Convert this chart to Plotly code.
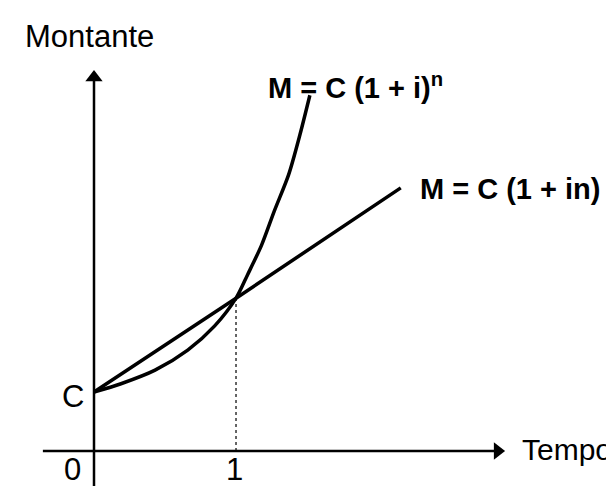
import plotly.graph_objects as go


THEME = {
    "ink": "#000000",
    "bg": "#FFFFFF",
    "font": "Arial, Liberation Sans, sans-serif",
}

# time (n) and amount (M, with C = 1)
compound_n = [0.0, 0.19, 0.43, 0.66, 0.85, 1.0, 1.08, 1.18, 1.27, 1.37, 1.45, 1.52]
compound_m = [1.0, 1.14, 1.37, 1.71, 2.12, 2.59, 2.98, 3.49, 4.07, 4.68, 5.36, 6.03]

simple_n = [0.0, 1.0, 2.16]
simple_m = [1.0, 2.59, 4.46]

cross_n = 1.0
cross_m = 2.59

x_label = "Tempo"
y_label = "Montante"
tick_zero = "0"
tick_one = "1"
capital_label = "C"
compound_label = "<b>M = C (1 + i)<sup>n</sup></b>"
simple_label = "<b>M = C (1 + in)</b>"


def _text(fig, text, x, y, size=31, xanchor="center"):
    fig.add_annotation(
        x=x, y=y, text=text, showarrow=False,
        xanchor=xanchor, yanchor="middle",
        font=dict(family=THEME["font"], size=size, color=THEME["ink"]),
    )


fig = go.Figure()

# axes: plain lines plus a filled triangle at the far end
fig.add_shape(type="line", x0=-0.36, y0=0, x1=2.842, y1=0,
              line=dict(color=THEME["ink"], width=2.5))
fig.add_shape(type="line", x0=0, y0=-0.75, x1=0, y1=6.33,
              line=dict(color=THEME["ink"], width=2.5))
fig.add_trace(go.Scatter(
    x=[2.842, 0], y=[0, 6.33], mode="markers",
    marker=dict(symbol=["triangle-right", "triangle-up"], size=15,
                color=THEME["ink"], line=dict(width=0)),
    hoverinfo="skip", showlegend=False,
))

fig.add_trace(go.Scatter(
    x=simple_n, y=simple_m, mode="lines",
    line=dict(color=THEME["ink"], width=3.5),
    hoverinfo="skip", showlegend=False,
))
fig.add_trace(go.Scatter(
    x=compound_n, y=compound_m, mode="lines",
    line=dict(color=THEME["ink"], width=3.5, shape="spline", smoothing=0.8),
    hoverinfo="skip", showlegend=False,
))

# dotted guide from the crossing point down to the time axis
fig.add_shape(
    type="line", x0=cross_n, y0=0, x1=cross_n, y1=cross_m,
    line=dict(color=THEME["ink"], width=1.2, dash="dot"),
)

_text(fig, y_label, -0.5, 7.02, xanchor="left")
_text(fig, x_label, 3.0, 0.03, size=30, xanchor="left")
_text(fig, capital_label, -0.15, 0.93)
_text(fig, tick_zero, -0.15, -0.31)
_text(fig, tick_one, 0.99, -0.32)
_text(fig, compound_label, 1.21, 6.19, size=29, xanchor="left")
_text(fig, simple_label, 2.28, 4.44, size=29, xanchor="left")

fig.update_layout(
    width=614, height=486,
    margin=dict(l=0, r=0, t=0, b=0),
    paper_bgcolor=THEME["bg"], plot_bgcolor=THEME["bg"],
    showlegend=False,
    xaxis=dict(range=[-0.6056, 3.718], visible=False, fixedrange=True),
    yaxis=dict(range=[-0.7288, 7.508], visible=False, fixedrange=True),
)

fig.write_html("out.html")
